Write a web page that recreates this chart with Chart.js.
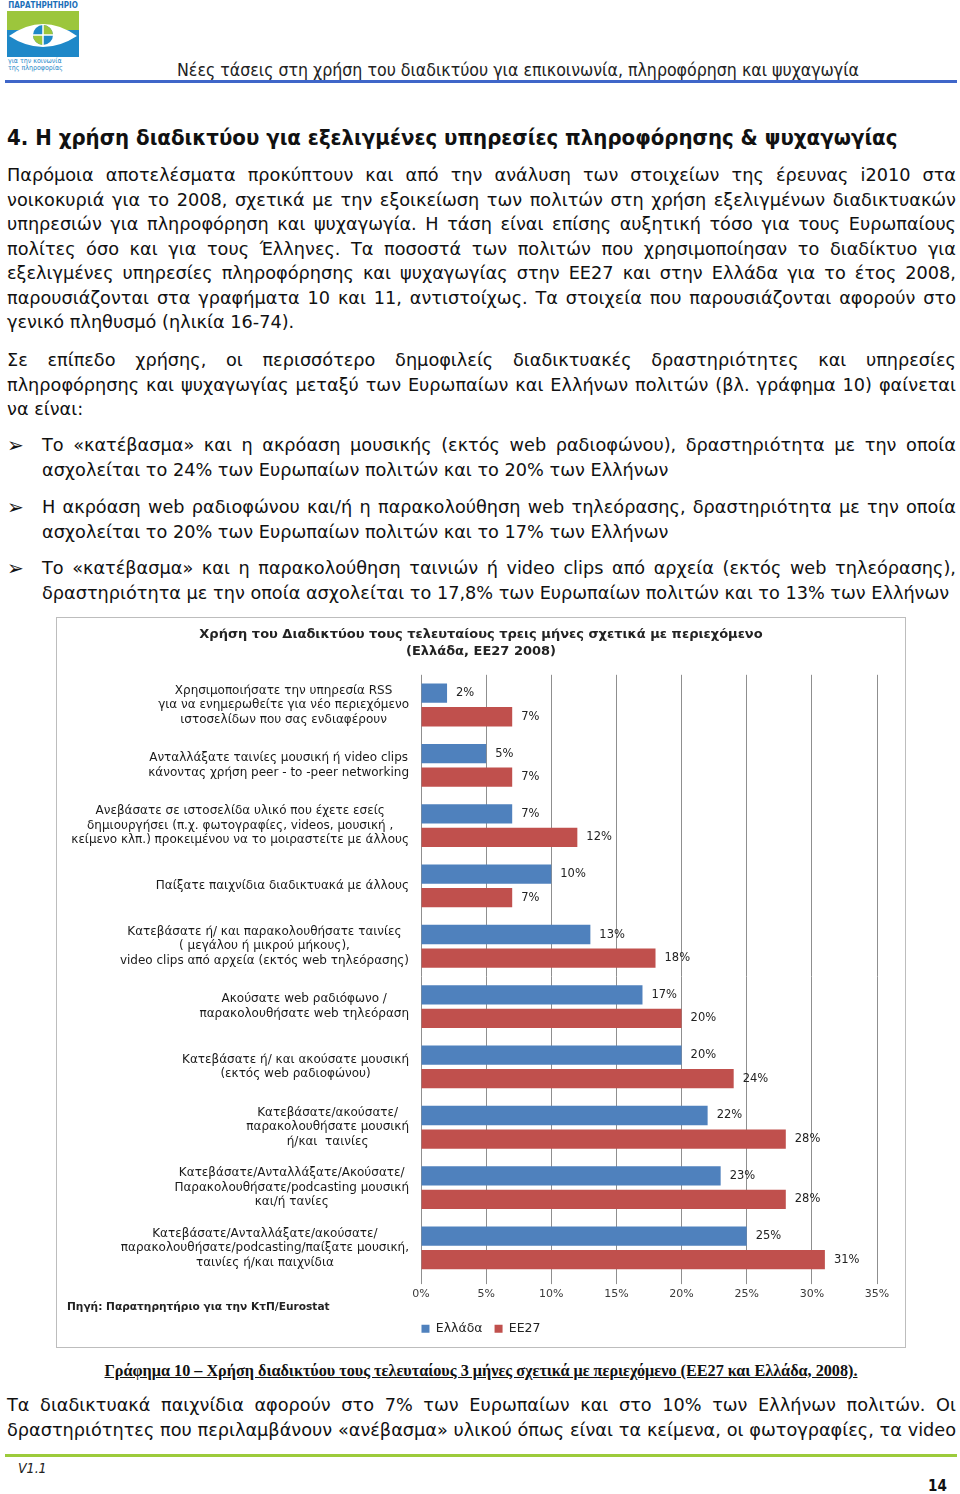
<!DOCTYPE html>
<html>
<head>
<meta charset="utf-8">
<script src="https://cdn.jsdelivr.net/npm/chart.js@4.4.0/dist/chart.umd.min.js"></script>
<style>
  body { margin: 0; background: #fff; }
  #page { position: relative; width: 960px; height: 1494px; overflow: hidden; font-family: "DejaVu Sans", sans-serif; color: #111; }
  .abs { position: absolute; white-space: nowrap; }
  .para { position: absolute; left: 7px; width: 949px; font-size: 17.7px; line-height: 24.5px; }
  .para div { text-align: justify; text-align-last: justify; white-space: nowrap; }
  .para div.last { text-align-last: left; }
  .bul { position: absolute; left: 42px; width: 914px; font-size: 17.7px; line-height: 24.5px; }
  .bul div { text-align: justify; text-align-last: justify; white-space: nowrap; }
  .bul div.last { text-align-last: left; }
  .arrow { position: absolute; left: 7px; font-size: 20px; line-height: 24.5px; color: #111; }
  #box { position: absolute; left: 56px; top: 617px; width: 848px; height: 729px; border: 1px solid #bdbdbd; }
</style>
</head>
<body>
<div id="page">
  <svg class="abs" style="left:5px;top:0" width="76" height="72" viewBox="0 0 76 72">
    <text x="38" y="8" text-anchor="middle" font-family="DejaVu Sans Condensed" font-weight="bold" font-size="8" fill="#1b6fb8">ΠΑΡΑΤΗΡΗΤΗΡΙΟ</text>
    <rect x="2" y="11" width="72" height="46" fill="#1e88c8"/>
    <polygon points="2,11 74,11 74,30 2,30" fill="#9cc63c"/>
    <path d="M4,36 Q38,12 72,36 Q38,58 4,36 Z" fill="#fff"/>
    <circle cx="38" cy="35" r="10" fill="#1e88c8"/>
    <path d="M38,25 A10,10 0 0 1 48,35 L38,35 Z" fill="#9cc63c"/>
    <path d="M38,45 A10,10 0 0 1 28,35 L38,35 Z" fill="#9cc63c"/>
    <line x1="38" y1="25" x2="38" y2="45" stroke="#fff" stroke-width="1.5"/>
    <line x1="28" y1="35" x2="48" y2="35" stroke="#fff" stroke-width="1.5"/>
    <text x="3" y="63" font-family="DejaVu Sans Condensed" font-size="7" fill="#1e88c8">για την κοινωνία</text>
    <text x="3" y="70" font-family="DejaVu Sans Condensed" font-size="7" fill="#1e88c8">της πληροφορίας</text>
  </svg>
  <div class="abs" style="left:177px;top:60px;font-family:'DejaVu Sans Condensed';font-size:17.6px;line-height:20px;color:#222">Νέες τάσεις στη χρήση του διαδικτύου για επικοινωνία, πληροφόρηση και ψυχαγωγία</div>
  <div class="abs" style="left:5px;top:80px;width:952px;height:3px;background:#3f66c9"></div>

  <div class="abs" style="left:7px;top:125px;font-family:'DejaVu Sans Condensed';font-weight:bold;font-size:22px;line-height:26px;color:#111">4. Η χρήση διαδικτύου για εξελιγμένες υπηρεσίες πληροφόρησης &amp; ψυχαγωγίας</div>

  <div class="para" style="top:163px">
    <div>Παρόμοια αποτελέσματα προκύπτουν και από την ανάλυση των στοιχείων της έρευνας i2010 στα</div>
    <div>νοικοκυριά για το 2008, σχετικά με την εξοικείωση των πολιτών στη χρήση εξελιγμένων διαδικτυακών</div>
    <div>υπηρεσιών για πληροφόρηση και ψυχαγωγία. Η τάση είναι επίσης αυξητική τόσο για τους Ευρωπαίους</div>
    <div>πολίτες όσο και για τους Έλληνες. Τα ποσοστά των πολιτών που χρησιμοποίησαν το διαδίκτυο για</div>
    <div>εξελιγμένες υπηρεσίες πληροφόρησης και ψυχαγωγίας στην ΕΕ27 και στην Ελλάδα για το έτος 2008,</div>
    <div>παρουσιάζονται στα γραφήματα 10 και 11, αντιστοίχως. Τα στοιχεία που παρουσιάζονται αφορούν στο</div>
    <div class="last">γενικό πληθυσμό (ηλικία 16-74).</div>
  </div>
  <div class="para" style="top:348px">
    <div>Σε επίπεδο χρήσης, οι περισσότερο δημοφιλείς διαδικτυακές δραστηριότητες και υπηρεσίες</div>
    <div>πληροφόρησης και ψυχαγωγίας μεταξύ των Ευρωπαίων και Ελλήνων πολιτών (βλ. γράφημα 10) φαίνεται</div>
    <div class="last">να είναι:</div>
  </div>

  <div class="arrow" style="top:433px">➢</div>
  <div class="bul" style="top:433px">
    <div>Το «κατέβασμα» και η ακρόαση μουσικής (εκτός web ραδιοφώνου), δραστηριότητα με την οποία</div>
    <div class="last">ασχολείται το 24% των Ευρωπαίων πολιτών και το 20% των Ελλήνων</div>
  </div>
  <div class="arrow" style="top:495px">➢</div>
  <div class="bul" style="top:495px">
    <div>Η ακρόαση web ραδιοφώνου και/ή η παρακολούθηση web τηλεόρασης, δραστηριότητα με την οποία</div>
    <div class="last">ασχολείται το 20% των Ευρωπαίων πολιτών και το 17% των Ελλήνων</div>
  </div>
  <div class="arrow" style="top:556px">➢</div>
  <div class="bul" style="top:556px">
    <div>Το «κατέβασμα» και η παρακολούθηση ταινιών ή video clips από αρχεία (εκτός web τηλεόρασης),</div>
    <div class="last">δραστηριότητα με την οποία ασχολείται το 17,8% των Ευρωπαίων πολιτών και το 13% των Ελλήνων</div>
  </div>

  <div id="box"><canvas id="chart" width="848" height="729"></canvas></div>

  <div class="abs" style="left:0;top:1362px;width:962px;text-align:center;font-family:'Liberation Serif';font-weight:bold;font-size:16.2px;line-height:18px;text-decoration:underline;color:#111">Γράφημα 10 – Χρήση διαδικτύου τους τελευταίους 3 μήνες σχετικά με περιεχόμενο (ΕΕ27 και Ελλάδα, 2008).</div>

  <div class="para" style="top:1393px">
    <div>Τα διαδικτυακά παιχνίδια αφορούν στο 7% των Ευρωπαίων και στο 10% των Ελλήνων πολιτών. Οι</div>
    <div>δραστηριότητες που περιλαμβάνουν «ανέβασμα» υλικού όπως είναι τα κείμενα, οι φωτογραφίες, τα video</div>
  </div>

  <div class="abs" style="left:5px;top:1454px;width:952px;height:3px;background:#9ccb3b"></div>
  <div class="abs" style="left:18px;top:1459px;font-family:'DejaVu Sans Condensed';font-style:italic;font-size:14px;line-height:18px;color:#222">V1.1</div>
  <div class="abs" style="left:928px;top:1477px;font-family:'DejaVu Sans Condensed';font-weight:bold;font-size:15px;line-height:18px;color:#111">14</div>
</div>

<script>
// Chart data
const categories = [
  ["Χρησιμοποιήσατε την υπηρεσία RSS", "για να ενημερωθείτε για νέο περιεχόμενο", "ιστοσελίδων που σας ενδιαφέρουν"],
  ["Ανταλλάξατε ταινίες μουσική ή video clips", "κάνοντας χρήση peer - to -peer networking"],
  ["Ανεβάσατε σε ιστοσελίδα υλικό που έχετε εσείς", "δημιουργήσει (π.χ. φωτογραφίες, videos, μουσική ,", "κείμενο κλπ.) προκειμένου να το μοιραστείτε με άλλους"],
  ["Παίξατε παιχνίδια διαδικτυακά με άλλους"],
  ["Κατεβάσατε ή/ και παρακολουθήσατε ταινίες", "( μεγάλου ή μικρού μήκους),", "video clips από αρχεία (εκτός web τηλεόρασης)"],
  ["Ακούσατε web ραδιόφωνο /", "παρακολουθήσατε web τηλεόραση"],
  ["Κατεβάσατε ή/ και ακούσατε μουσική", "(εκτός web ραδιοφώνου)"],
  ["Κατεβάσατε/ακούσατε/", "παρακολουθήσατε μουσική", "ή/και  ταινίες"],
  ["Κατεβάσατε/Ανταλλάξατε/Ακούσατε/", "Παρακολουθήσατε/podcasting μουσική", "και/ή τανίες"],
  ["Κατεβάσατε/Ανταλλάξατε/ακούσατε/", "παρακολουθήσατε/podcasting/παίξατε μουσική,", "ταινίες ή/και παιχνίδια"]
];
const greece = [2, 5, 7, 10, 13, 17, 20, 22, 23, 25];
const eu27 = [7, 7, 12, 7, 18, 20, 24, 28, 28, 31];
const xTicks = [0, 5, 10, 15, 20, 25, 30, 35];
const seriesNames = ["Ελλάδα", "ΕΕ27"];
const chartTitle = ["Χρήση του Διαδικτύου τους τελευταίους τρεις μήνες σχετικά με περιεχόμενο", "(Ελλάδα, ΕΕ27 2008)"];
const sourceNote = "Πηγή: Παρατηρητήριο για την ΚτΠ/Eurostat";

const FONT = "'DejaVu Sans', sans-serif";

// value labels next to bars, category labels (centered lines, right aligned block), source note
const textPlugin = {
  id: "textPlugin",
  afterDatasetsDraw(chart) {
    const ctx = chart.ctx;
    ctx.save();
    ctx.font = "11.5px " + FONT;
    ctx.fillStyle = "#222";
    ctx.textAlign = "left";
    ctx.textBaseline = "middle";
    chart.data.datasets.forEach((ds, di) => {
      chart.getDatasetMeta(di).data.forEach((bar, i) => {
        ctx.fillText(ds.data[i] + "%", bar.x + 9, bar.y);
      });
    });

    const yScale = chart.scales.y;
    const rightEdge = yScale.right - 12;
    const lh = 14.5;
    ctx.font = "12px " + FONT;
    ctx.fillStyle = "#1a1a1a";
    ctx.textAlign = "center";
    chart.data.labels.forEach((lines, i) => {
      const yc = yScale.getPixelForValue(i);
      let w = 0;
      lines.forEach(l => { w = Math.max(w, ctx.measureText(l).width); });
      const cx = rightEdge - w / 2;
      const y0 = yc - (lines.length - 1) * lh / 2;
      lines.forEach((l, k) => ctx.fillText(l, cx, y0 + k * lh));
    });

    ctx.font = "bold 10.6px " + FONT;
    ctx.textAlign = "left";
    ctx.fillStyle = "#222";
    ctx.fillText(sourceNote, 10, 689);
    ctx.restore();
  }
};

new Chart(document.getElementById("chart"), {
  type: "bar",
  data: {
    labels: categories,
    datasets: [
      { label: seriesNames[0], data: greece, backgroundColor: "#4f81bd", categoryPercentage: 0.78, barPercentage: 0.82 },
      { label: seriesNames[1], data: eu27, backgroundColor: "#c0504d", categoryPercentage: 0.78, barPercentage: 0.82 }
    ]
  },
  options: {
    indexAxis: "y",
    responsive: false,
    animation: false,
    layout: { padding: { left: 28, right: 28, top: 0, bottom: 2 } },
    scales: {
      x: {
        min: 0, max: 35,
        afterBuildTicks: (s) => { s.ticks = xTicks.map(v => ({ value: v })); },
        ticks: { callback: (v) => v + "%", font: { family: FONT, size: 11 }, color: "#3a3a3a", padding: 3 },
        grid: { color: "#8f8f8f", lineWidth: 1, tickLength: 6 },
        border: { display: false },
        title: { display: true, text: "", font: { size: 6 }, padding: 0 }
      },
      y: {
        ticks: { display: false },
        grid: { display: false },
        border: { display: false },
        afterFit: (s) => { s.width = 336; }
      }
    },
    plugins: {
      title: {
        display: true, text: chartTitle, color: "#222",
        font: { family: FONT, size: 13, weight: "bold", lineHeight: 1.3 },
        padding: { top: 8, bottom: 15 }
      },
      legend: {
        position: "bottom",
        labels: { boxWidth: 8, boxHeight: 8, padding: 12, color: "#222", font: { family: FONT, size: 12.5 } }
      },
      tooltip: { enabled: false }
    }
  },
  plugins: [textPlugin]
});
</script>
</body>
</html>
